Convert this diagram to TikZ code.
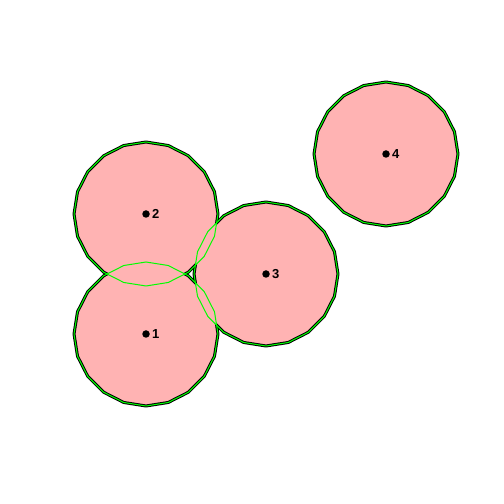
\documentclass[tikz,border=0pt]{standalone}
\usepackage{fontspec}
\setmainfont{Liberation Sans}
\usetikzlibrary{positioning}
\definecolor{discfill}{RGB}{255,179,179}
\definecolor{rimgreen}{RGB}{0,255,0}
\newcommand{\disc}[2]{plot[samples=21, domain=0:360] ({#1+0.6*cos(\x)}, {#2+0.6*sin(\x)}) -- cycle}

\begin{document}
\begin{tikzpicture}
                \tikzset{x=120pt, y=120pt}
                \tikzstyle{rim}=[draw=black, line width=3pt, line join=round]
                \tikzstyle{edge}=[draw=rimgreen, line width=1pt, line join=round]
                \tikzstyle{pt}=[circle, fill=black, inner sep=0pt, minimum size=7.5pt]
                \tikzstyle{lbl}=[inner sep=0pt, font=\fontsize{13}{15}\selectfont\bfseries]

                \useasboundingbox (-0.2167,-0.4167) rectangle (3.9833,3.7833);

                % pink discs
                \fill[discfill] \disc{1}{1};
                \fill[discfill] \disc{1}{2};
                \fill[discfill] \disc{2}{1.5};
                \fill[discfill] \disc{3}{2.5};

                % black outline of the union
                \begin{scope}[even odd rule]
                    \clip (-1,-1) rectangle (5,5) \disc{1}{2};
                    \clip (-1,-1) rectangle (5,5) \disc{2}{1.5};
                    \draw[rim] \disc{1}{1};
                \end{scope}
                \begin{scope}[even odd rule]
                    \clip (-1,-1) rectangle (5,5) \disc{1}{1};
                    \clip (-1,-1) rectangle (5,5) \disc{2}{1.5};
                    \draw[rim] \disc{1}{2};
                \end{scope}
                \begin{scope}[even odd rule]
                    \clip (-1,-1) rectangle (5,5) \disc{1}{1};
                    \clip (-1,-1) rectangle (5,5) \disc{1}{2};
                    \draw[rim] \disc{2}{1.5};
                \end{scope}
                \draw[rim] \disc{3}{2.5};

                % green edges of every disc
                \draw[edge] \disc{1}{1};
                \draw[edge] \disc{1}{2};
                \draw[edge] \disc{2}{1.5};
                \draw[edge] \disc{3}{2.5};

                % centres
                \draw (1.0, 1.0)    node[pt]    (p1)    {};
                \draw (1.0, 2.0)    node[pt]    (p2)    {};
                \draw (2.0, 1.5)    node[pt]    (p3)    {};
                \draw (3.0, 2.5)    node[pt]    (p4)    {};

                \node[lbl, right=2pt of p1]     (l1)    {1};
                \node[lbl, right=2pt of p2]     (l2)    {2};
                \node[lbl, right=2pt of p3]     (l3)    {3};
                \node[lbl, right=2pt of p4]     (l4)    {4};
            \end{tikzpicture}
\end{document}
